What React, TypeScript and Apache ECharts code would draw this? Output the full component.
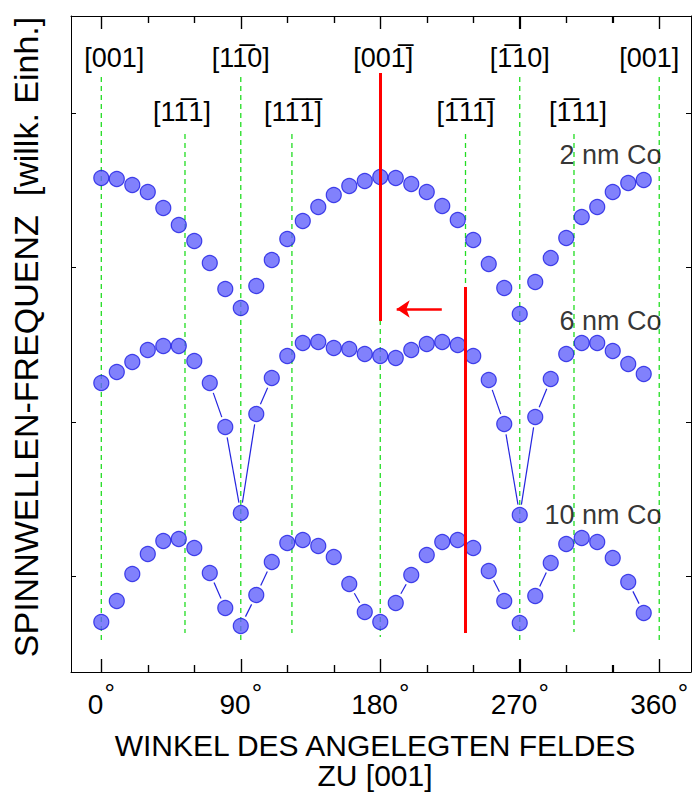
import React, { useEffect, useRef } from "react";
import * as echarts from "echarts";

// ---- data (angles in degrees, frequencies in arbitrary units) ----
const angles = [0, 10, 20, 30, 40, 50, 60, 70, 80, 90, 100, 110, 120, 130, 140, 150, 160, 170,
  180, 190, 200, 210, 220, 230, 240, 250, 260, 270, 280, 290, 300, 310, 320, 330, 340, 350];

const freq2nm = [49.4, 49.3, 48.7, 48.0, 46.4, 44.7, 43.1, 40.9, 38.3, 36.4, 38.6, 41.2, 43.3, 45.1, 46.5, 47.7, 48.6, 49.1,
  49.5, 49.4, 48.8, 48.0, 46.6, 45.2, 43.2, 40.8, 38.4, 35.8, 39.0, 41.4, 43.4, 45.5, 46.5, 48.0, 48.9, 49.2];

const freq6nm = [28.9, 30.0, 31.0, 32.2, 32.6, 32.6, 31.1, 28.9, 24.5, 15.9, 25.8, 29.4, 31.6, 32.9, 33.0, 32.4, 32.3, 31.8,
  31.6, 31.4, 32.2, 32.8, 33.0, 32.7, 31.6, 29.2, 24.8, 15.7, 25.5, 29.3, 31.8, 32.9, 32.9, 32.1, 30.8, 29.8];

const freq10nm = [5.0, 7.1, 9.8, 11.8, 13.1, 13.3, 12.4, 9.9, 6.4, 4.6, 7.7, 11.0, 12.9, 13.2, 12.6, 11.5, 8.8, 6.0,
  5.0, 6.9, 9.7, 11.7, 13.0, 13.2, 12.4, 10.1, 7.1, 4.9, 7.6, 10.9, 12.8, 13.4, 13.0, 11.4, 9.0, 5.9];

const seriesNames = ["2 nm Co", "6 nm Co", "10 nm Co"];
const seriesLabelAnchors = [[361.8, 51.7], [361.8, 35.1], [361.8, 15.7]];

const O = "\u0305";
const directionAngles = [0, 54, 90, 123, 180, 235, 270, 305, 360];
const directionLabels = [
  "[001]",
  "[11" + O + "1]",
  "[11" + O + "0]",
  "[11" + O + "1" + O + "]",
  "[001" + O + "]",
  "[1" + O + "11" + O + "]",
  "[1" + O + "10]",
  "[1" + O + "11]",
  "[001]",
];
const directionRow = [0, 1, 0, 1, 0, 1, 0, 1, 0];
const rowLabelY = [61.4, 56.0];
const rowLineTop = [59.5, 53.8];
const lineBottom = [2.9, 3.9, 2.9, 3.9, 3.5, 4.0, 3.0, 4.0, 3.0];

const fieldLines = [
  { angle: 180, from: 59.9, to: 35.1 },
  { angle: 234.7, from: 38.5, to: 3.9 },
];
const arrowFrom = [219.7, 36.3];
const arrowTo = [190.6, 36.3];

const xMajorTicks = [0, 90, 180, 270, 360];
const xMinorTicks = [30, 60, 120, 150, 210, 240, 300, 330];
const yTicks = [9.6, 25.0, 40.5, 55.9];

const X_MIN = -19.55;
const X_MAX = 380.5;
const Y_MIN = 0;
const Y_MAX = 65.6;

const FONT = "'Liberation Sans', Arial, Helvetica, sans-serif";
const labelNudge = [13, -3, 0, 1, 3, 0, 0, 4, -10];
// tick lengths expressed in y-axis units (1 unit = 10 px)
const MAJOR_LEN = 1.3;
const MINOR_LEN = 0.7;

function pairs(vals: number[]) {
  return angles.map((a, i) => [a, vals[i]]);
}
function segments(vals: number[]) {
  const out: number[][] = [];
  for (let i = 0; i < angles.length - 1; i++) out.push([angles[i], vals[i], angles[i + 1], vals[i + 1]]);
  return out;
}

const GAP = 10.5;
const MIN_VIS = 10.5;
function renderSeg(params: any, api: any) {
  const a = api.coord([api.value(0), api.value(1)]);
  const b = api.coord([api.value(2), api.value(3)]);
  const dx = b[0] - a[0];
  const dy = b[1] - a[1];
  const d = Math.hypot(dx, dy);
  if (d - 2 * GAP < MIN_VIS) return null;
  const ux = dx / d, uy = dy / d;
  return {
    type: "line",
    shape: { x1: a[0] + ux * GAP, y1: a[1] + uy * GAP, x2: b[0] - ux * GAP, y2: b[1] - uy * GAP },
    style: { stroke: "#2424e0", lineWidth: 1.2 },
  };
}

function renderDirection(params: any, api: any) {
  const i = params.dataIndex;
  const a = api.value(0);
  const top = api.coord([a, api.value(1)]);
  const bottom = api.coord([a, api.value(2)]);
  const lab = api.coord([a, api.value(3)]);
  const x = top[0];
  return {
    type: "group",
    children: [
      {
        type: "line",
        shape: { x1: x, y1: top[1], x2: x, y2: bottom[1] },
        style: { stroke: "#22dd22", lineWidth: 1.3, lineDash: [5, 4] },
        z2: 1,
      },
      {
        type: "text",
        x: lab[0] + labelNudge[i],
        y: lab[1],
        style: {
          text: directionLabels[i],
          fill: "#000",
          font: `27px ${FONT}`,
          align: "center",
          verticalAlign: "middle",
        },
        z2: 2,
      },
    ],
  };
}

function tickLines(values: number[], len: number) {
  const out: any[] = [];
  values.forEach((v) => {
    out.push([{ coord: [v, Y_MIN] }, { coord: [v, Y_MIN + len] }]);
    out.push([{ coord: [v, Y_MAX] }, { coord: [v, Y_MAX - len] }]);
  });
  return out;
}

const markerStyle = { color: "#6262fb", borderColor: "#1c1ce4", borderWidth: 1.2 };

export default function App() {
  const ref = useRef<HTMLDivElement>(null);
  useEffect(() => {
    if (!ref.current) return;
    const chart = echarts.init(ref.current, null, { renderer: "svg" });

    const xBottom: any = {
      type: "value",
      position: "bottom",
      min: X_MIN,
      max: X_MAX,
      axisLine: { show: true, onZero: false, lineStyle: { color: "#000", width: 1 } },
      axisTick: { show: false },
      splitLine: { show: false },
      axisLabel: {
        show: true,
        customValues: xMajorTicks,
        margin: 8,
        formatter: (v: number) => `{n|${v}}{d|°}`,
        rich: {
          n: { fontSize: 28, fontFamily: FONT, color: "#000", padding: [10, 0, 0, 0] },
          d: { fontSize: 26, lineHeight: 26, fontFamily: FONT, color: "#000", verticalAlign: "top", padding: [0, 0, 0, 1] },
        },
      },
      name: "WINKEL DES ANGELEGTEN FELDES\nZU [001]",
      nameLocation: "middle",
      nameGap: 58,
      nameTextStyle: { fontSize: 30, lineHeight: 30, fontFamily: FONT, color: "#000", padding: [0, 12, 0, 0] },
    };
    const xTop: any = {
      type: "value",
      position: "top",
      min: X_MIN,
      max: X_MAX,
      axisLine: { show: true, onZero: false, lineStyle: { color: "#000", width: 1 } },
      axisTick: { show: false },
      axisLabel: { show: false },
      splitLine: { show: false },
    };

    const yAxisBase = (position: string) => ({
      type: "value",
      position,
      min: Y_MIN,
      max: Y_MAX,
      axisLine: { show: true, onZero: false, lineStyle: { color: "#000", width: 1 } },
      axisTick: { show: true, inside: true, length: 5, customValues: yTicks, lineStyle: { color: "#000" } },
      axisLabel: { show: false },
      splitLine: { show: false },
    });
    const yLeft: any = yAxisBase("left");
    yLeft.name = "SPINNWELLEN-FREQUENZ  [willk. Einh.]";
    yLeft.nameLocation = "middle";
    yLeft.nameGap = 28;
    yLeft.nameTextStyle = { fontSize: 34, fontFamily: FONT, color: "#000", padding: [0, 0, 0, 14] };

    const option: any = {
      animation: false,
      textStyle: { fontFamily: FONT },
      grid: { left: 71, right: 2, top: 16, bottom: 124, containLabel: false },
      xAxis: [xBottom, xTop],
      yAxis: [yLeft, yAxisBase("right")],
      series: [
        {
          type: "line",
          name: "x ticks",
          z: 6,
          data: [],
          markLine: {
            silent: true,
            symbol: "none",
            label: { show: false },
            lineStyle: { color: "#000", width: 1.2, type: "solid" },
            data: [...tickLines(xMajorTicks, MAJOR_LEN), ...tickLines(xMinorTicks, MINOR_LEN)],
          },
        },
        {
          type: "custom",
          name: "directions",
          z: 1,
          renderItem: renderDirection,
          encode: { x: 0, y: [1, 2, 3] },
          data: directionAngles.map((a, i) => [
            a,
            rowLineTop[directionRow[i]],
            lineBottom[i],
            rowLabelY[directionRow[i]],
          ]),
        },
        {
          type: "custom",
          name: "6 nm line",
          z: 2,
          renderItem: renderSeg,
          encode: { x: [0, 2], y: [1, 3] },
          data: segments(freq6nm),
        },
        {
          type: "custom",
          name: "10 nm line",
          z: 2,
          renderItem: renderSeg,
          encode: { x: [0, 2], y: [1, 3] },
          data: segments(freq10nm),
        },
        { type: "scatter", name: seriesNames[0], z: 3, symbolSize: 15, itemStyle: markerStyle, data: pairs(freq2nm) },
        { type: "scatter", name: seriesNames[1], z: 3, symbolSize: 15, itemStyle: markerStyle, data: pairs(freq6nm) },
        { type: "scatter", name: seriesNames[2], z: 3, symbolSize: 15, itemStyle: markerStyle, data: pairs(freq10nm) },
        {
          type: "scatter",
          name: "labels",
          z: 4,
          symbolSize: 1,
          itemStyle: { color: "transparent" },
          data: seriesLabelAnchors,
          label: {
            show: true,
            position: "left",
            distance: 0,
            formatter: (p: any) => seriesNames[p.dataIndex],
            fontSize: 27,
            fontFamily: FONT,
            color: "#000",
          },
        },
        {
          type: "line",
          name: "field",
          z: 5,
          data: [],
          markLine: {
            silent: true,
            z: 5,
            label: { show: false },
            symbol: "none",
            lineStyle: { color: "#ff0000", width: 3, type: "solid" },
            data: [
              ...fieldLines.map((f) => [{ coord: [f.angle, f.from] }, { coord: [f.angle, f.to] }]),
              [
                { coord: arrowFrom, symbol: "none", lineStyle: { width: 2.5, color: "#ff0000" } },
                { coord: arrowTo, symbol: "arrow", symbolSize: 13 },
              ],
            ],
          },
        },
      ],
    };
    chart.setOption(option);

    // axis ticks on the bottom and top frame, placed through the axis scale
    const tickGraphics: any[] = [];
    const addTicks = (values: number[], len: number) => {
      values.forEach((v) => {
        const b0 = chart.convertToPixel({ gridIndex: 0 }, [v, Y_MIN]) as number[];
        const b1 = chart.convertToPixel({ gridIndex: 0 }, [v, Y_MIN + len]) as number[];
        const t0 = chart.convertToPixel({ gridIndex: 0 }, [v, Y_MAX]) as number[];
        const t1 = chart.convertToPixel({ gridIndex: 0 }, [v, Y_MAX - len]) as number[];
        if (!b0 || !t0) return;
        const x = Math.round(b0[0]) + 0.5;
        tickGraphics.push({ type: "line", silent: true, z: 10, shape: { x1: x, y1: b0[1], x2: x, y2: b1[1] }, style: { stroke: "#000", lineWidth: 1.2 } });
        tickGraphics.push({ type: "line", silent: true, z: 10, shape: { x1: x, y1: t0[1], x2: x, y2: t1[1] }, style: { stroke: "#000", lineWidth: 1.2 } });
      });
    };
    addTicks(xMajorTicks, MAJOR_LEN);
    addTicks(xMinorTicks, MINOR_LEN);
    chart.setOption({ graphic: tickGraphics });

    return () => chart.dispose();
  }, []);
  return <div ref={ref} style={{ position: "fixed", left: 0, top: 0, width: 693, height: 796, background: "#fff" }} />;
}
